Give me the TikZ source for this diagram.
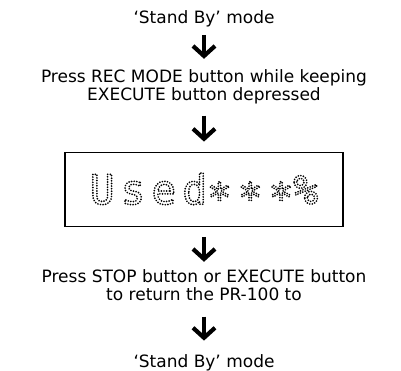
\documentclass[tikz,border=0pt]{standalone}
\usepackage{fontspec}
\setmainfont{DejaVu Sans}
\newfontfamily\lcdfont{DejaVu Sans Mono}[LetterSpace=15]
\usetikzlibrary{arrows.meta, positioning}
% dot-matrix look: glyph outlines stroked with a dotted pen
\newcommand{\lcdtext}[1]{%
  \special{pdf:literal direct q 1 Tr 1.9 w 1 J [0 2.6] 0 d}#1\special{pdf:literal direct Q}}

\begin{document}
\begin{tikzpicture}[x=1pt, y=1pt,
  modetext/.style={font=\fontsize{17}{18}\selectfont, align=center,
    inner sep=0pt, text height=12.4pt, text depth=0pt},
  twolines/.style={modetext, text height=30.4pt},
  lcdbox/.style={draw, line width=1.2pt, minimum width=278pt,
    minimum height=74pt, inner sep=0pt, text height=30pt, text depth=0pt,
    font=\lcdfont\fontsize{41}{41}\selectfont},
  flowarrow/.style={-{Straight Barb[length=10pt, width=22pt]}, line width=4.2pt}]

  \useasboundingbox (0,0) rectangle (401,-370);

  \node[modetext, anchor=north] (standby) at (204,-11) {`Stand By' mode};
  \node[twolines, below=46pt of standby] (recmode) {Press REC MODE button while keeping\\EXECUTE button depressed};
  \node[lcdbox, below=51pt of recmode] (display) {\lcdtext{Used\raisebox{-8pt}{***}\%}};
  \node[twolines, below=43pt of display] (stopexec) {Press STOP button or EXECUTE button\\to return the PR-100 to};
  \node[modetext, below=54pt of stopexec] (standbyend) {`Stand By' mode};

  \draw[flowarrow, shorten <=11pt, shorten >=11pt] (standby) -- (recmode);
  \draw[flowarrow, shorten <=15pt, shorten >=10pt] (recmode) -- (display);
  \draw[flowarrow, shorten <=10pt, shorten >=8pt] (display) -- (stopexec);
  \draw[flowarrow, shorten <=16pt, shorten >=14pt] (stopexec) -- (standbyend);

\end{tikzpicture}
\end{document}
